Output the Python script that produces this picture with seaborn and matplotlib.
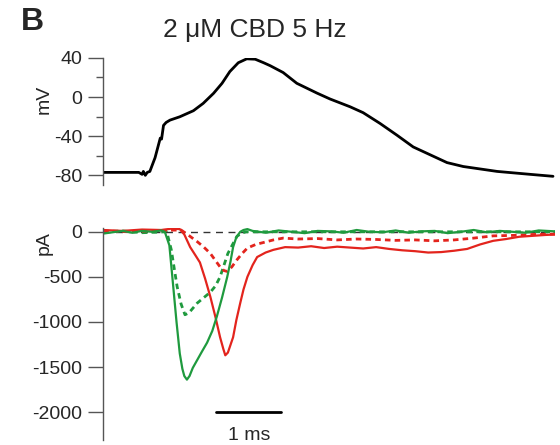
import numpy as np
import matplotlib
matplotlib.use("Agg")
import matplotlib.pyplot as plt
import seaborn as sns

sns.set_style("white")
plt.rcParams['font.family'] = ['Liberation Sans', 'DejaVu Sans']
plt.rcParams['axes.unicode_minus'] = False

# action potential (ms, mV)
ap_t = [0, 0.55, 0.60, 0.62, 0.65, 0.68, 0.72, 0.80, 0.86, 0.88, 0.90, 0.93, 0.97,
        1.03, 1.18, 1.39, 1.54, 1.70, 1.83, 1.95, 2.08, 2.21, 2.34, 2.47, 2.57,
        2.77, 2.98, 3.29, 3.49, 3.80, 4.00, 4.26, 4.52, 4.77,
        5.03, 5.29, 5.54, 6.06, 6.57, 6.92]
ap_mv = [-77, -77, -79, -76, -80, -77, -76, -62, -47, -42, -43, -29, -26,
         -23.6, -20.2, -14, -6.5, 3.8, 14, 26, 35, 39, 38.6, 35, 32,
         25, 14, 4, -2, -10, -16, -27, -39, -51,
         -59, -67, -71, -76, -79, -81]

# currents (ms, pA)
green_t = [0, 0.15, 0.3, 0.45, 0.6, 0.75, 0.9, 0.95, 1.02, 1.08, 1.13, 1.18, 1.22,
           1.25, 1.29, 1.33, 1.38, 1.45, 1.52, 1.60, 1.68, 1.75, 1.83, 1.91, 1.96,
           2.00, 2.05, 2.11, 2.16, 2.22, 2.3, 2.5, 2.7, 2.9, 3.1, 3.3, 3.5, 3.7,
           3.9, 4.1, 4.3, 4.5, 4.7, 4.9, 5.1, 5.3, 5.5, 5.7, 5.9, 6.1, 6.3, 6.5,
           6.7, 6.95]
green_pa = [-20, -5, 10, -10, 10, 0, 15, 0, -150, -610, -1000, -1350, -1520,
            -1600, -1640, -1600, -1510, -1420, -1330, -1230, -1100, -940, -730, -500, -330,
            -170, -60, 0, 20, 30, 10, -10, 15, 0, -15, 10, 5, -10,
            20, 0, -5, 15, -10, 5, 10, -15, 0, 20, -5, 10, 0, -10,
            15, 5]

green_dot_t = [0, 0.3, 0.6, 0.98, 1.05, 1.10, 1.14, 1.20, 1.26, 1.32, 1.45, 1.55,
               1.65, 1.73, 1.80, 1.86, 1.92, 2.00, 2.06, 2.13, 2.20, 6.95]
green_dot_pa = [0, 10, -10, 0, -200, -430, -610, -800, -920, -900, -790, -730,
                -670, -600, -500, -370, -240, -130, -50, -15, 0, 0]

red_t = [0, 0.3, 0.6, 0.9, 1.05, 1.18, 1.25, 1.34, 1.42, 1.49, 1.57, 1.65, 1.73,
         1.80, 1.85, 1.88, 1.92, 2.00, 2.05, 2.11, 2.16, 2.22, 2.30, 2.37, 2.50,
         2.62, 2.8, 3.0, 3.2, 3.4, 3.6, 3.8, 4.0, 4.2, 4.4, 4.6, 4.8, 5.0, 5.2,
         5.4, 5.6, 5.8, 6.0, 6.2, 6.4, 6.6, 6.8, 6.95]
red_pa = [20, 10, 25, 20, 35, 30, -30, -170, -260, -340, -520, -720, -950,
          -1170, -1300, -1370, -1340, -1170, -980, -790, -640, -500, -370, -280, -230,
          -200, -170, -175, -160, -180, -165, -175, -185, -170, -190, -205, -215, -230, -225,
          -210, -190, -140, -100, -80, -55, -45, -35, -30]

red_dot_t = [0, 0.4, 0.8, 1.20, 1.30, 1.45, 1.55, 1.65, 1.73, 1.80, 1.86, 1.91,
             1.98, 2.06, 2.14, 2.22, 2.35, 2.46, 2.62, 2.77, 3.0, 3.3, 3.6, 3.9,
             4.2, 4.5, 4.8, 5.1, 5.4, 5.7, 6.0, 6.3, 6.6, 6.95]
red_dot_pa = [10, 0, 15, 20, -30, -110, -170, -240, -320, -390, -430, -440,
              -390, -310, -240, -180, -140, -120, -90, -70, -80, -75, -90, -80,
              -85, -95, -90, -100, -90, -70, -45, -40, -30, -25]

green = '#1f9a3e'
red = '#e3241d'

fig = plt.figure(figsize=(5.6, 4.45), dpi=100)
ax1 = fig.add_axes([0.184, 0.584, 0.807, 0.286])
ax2 = fig.add_axes([0.184, 0.011, 0.807, 0.477])

sns.lineplot(x=ap_t, y=ap_mv, ax=ax1, color='black', lw=2.0, sort=False)
ax1.set_xlim(0, 6.95)
ax1.set_ylim(-90, 40)
ax1.set_yticks([40, 0, -40, -80])
ax1.set_yticks([20, -20, -60], minor=True)
ax1.set_ylabel('mV', fontsize=14)
ax1.yaxis.set_label_coords(-0.111, 0.677)

sns.lineplot(x=green_dot_t, y=green_dot_pa, ax=ax2, color=green, lw=2.0,
             linestyle=(0, (2, 1.5)), sort=False)
sns.lineplot(x=red_dot_t, y=red_dot_pa, ax=ax2, color=red, lw=2.0,
             linestyle=(0, (2, 1.5)), sort=False)
sns.lineplot(x=red_t, y=red_pa, ax=ax2, color=red, lw=1.6, sort=False)
sns.lineplot(x=green_t, y=green_pa, ax=ax2, color=green, lw=1.6, sort=False)
ax2.axhline(0, color='#333333', lw=1.0, ls=(0, (5, 4)), zorder=0)
ax2.set_xlim(0, 6.95)
ax2.set_ylim(-2311, 44)
ax2.set_yticks([0, -500, -1000, -1500, -2000])
ax2.set_ylabel('pA', fontsize=14)
ax2.yaxis.set_label_coords(-0.111, 0.93)

# scale bar
ax2.plot([1.74, 2.74], [-2000, -2000], color='black', lw=2.0)
ax2.text(2.24, -2170, '1 ms', ha='center', va='top', fontsize=14)

for ax in (ax1, ax2):
    sns.despine(ax=ax, bottom=True)
    ax.spines['left'].set_color('#555555')
    ax.spines['left'].set_linewidth(1.0)
    ax.set_xticks([])
    ax.tick_params(axis='y', which='major', length=11, width=1.0, color='#555555',
                   labelsize=14, pad=4, left=True)
    ax.tick_params(axis='y', which='minor', length=5, width=1.0, color='#555555', left=True)

fig.text(0.455, 0.933, '2 \u03bcM CBD 5 Hz', ha='center', va='center', fontsize=19)
fig.text(0.038, 0.95, 'B', ha='left', va='center', fontsize=23, fontweight='bold')

fig.savefig('out.png', dpi=100)
